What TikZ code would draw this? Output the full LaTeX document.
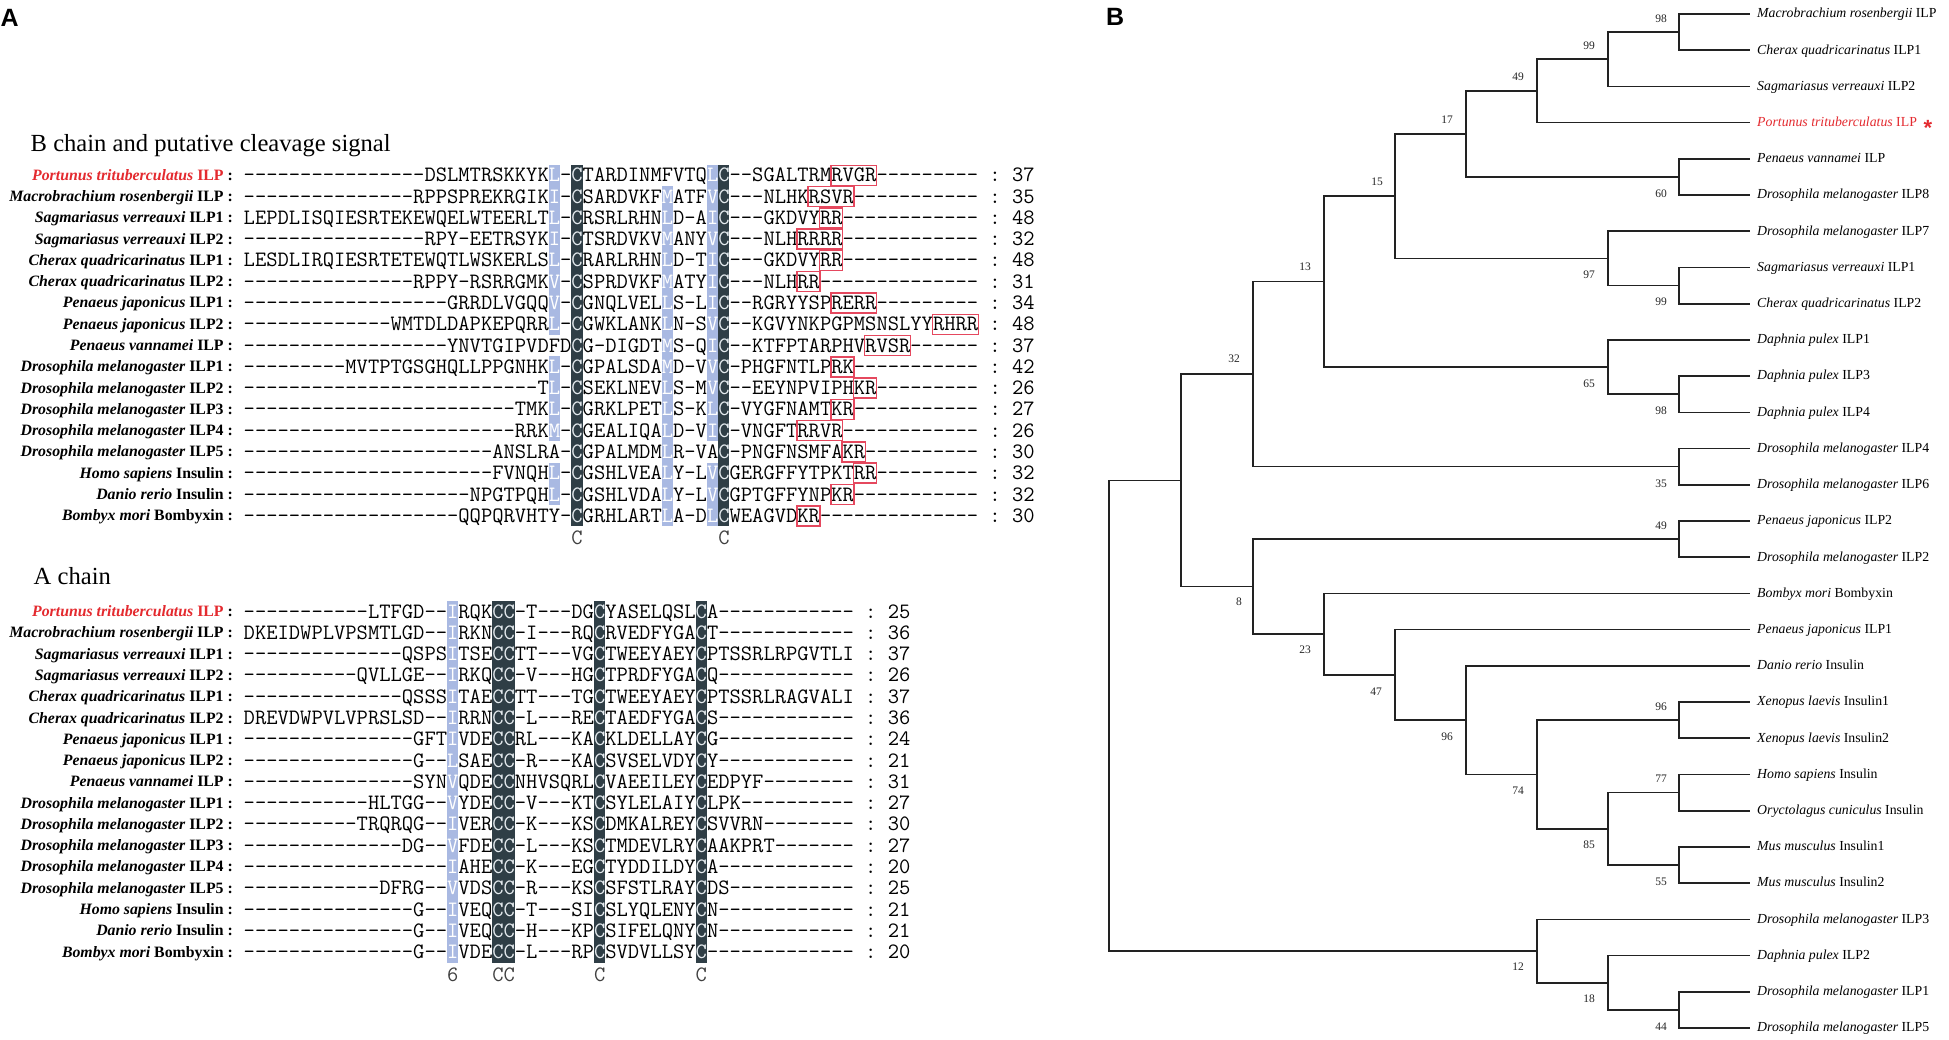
\documentclass[tikz,border=0pt]{standalone}
\usepackage{fontspec}
\setmainfont{Liberation Serif}
\newfontfamily\panelfont{Liberation Sans}
\definecolor{hlblue}{HTML}{A9B9E2}
\definecolor{hldark}{HTML}{2F3E46}
\definecolor{darkfg}{HTML}{E4EAEE}
\definecolor{boxred}{HTML}{E5485E}
\definecolor{labred}{HTML}{E42A2F}
\definecolor{treeline}{HTML}{222222}
\newcommand\sdash[1]{\ifnum#1>0 -\kern0pt\relax\expandafter\sdash\expandafter{\number\numexpr#1-1\relax}\fi}
\newcommand\hw[1]{\textcolor{white}{#1}}
\newcommand\hd[1]{\textcolor{darkfg}{#1}}
\newcommand\monosp{\hspace*{11.3pt}}
\newcommand\ty[1]{(14+(#1)*36.214)}
\newlength\cwtest
\newcommand\seqrow[6]{%
  \node[rowlab] (#1l#3) at (233,{#2+5}) {#4};
  \node[seqtxt] (#1s#3) at (243.5,{#2+6.5}) {#5\monosp:\monosp#6};
}
\newcommand\hcol[5]{\fill[#5] ({243.5+(#2-1)*11.3},{#1+(#3-1)*21.28-10.64}) rectangle ({243.5+#2*11.3},{#1+(#4-1)*21.28+10.64});}
\newcommand\rbox[3]{\draw[rbx] ({243.5+(#2-1)*11.3-0.3},{175.3+(#1-1)*21.28-10}) rectangle ({243.5+#3*11.3+0.3},{175.3+(#1-1)*21.28+10});}
\tikzset{
  rowlab/.style={anchor=base east, inner sep=0pt, font=\bfseries\fontsize{15.8}{18}\selectfont},
  seqtxt/.style={anchor=base west, inner sep=0pt, font=\ttfamily\fontsize{\monosize}{22}\selectfont},
  ttl/.style={anchor=base west, inner sep=0pt, font=\fontsize{24.6}{28}\selectfont},
  plab/.style={anchor=base west, inner sep=0pt, font=\panelfont\bfseries\fontsize{25}{28}\selectfont},
  leaflab/.style={anchor=base west, inner sep=0pt, font=\fontsize{13.8}{16}\selectfont},
  bsv/.style={inner sep=0pt, font=\fontsize{11.5}{12}\selectfont, text=black!85},
  trl/.style={draw=treeline, line width=1.6pt},
  rbx/.style={draw=boxred, line width=1.5pt},
  mk/.style={anchor=base west, inner sep=0pt, font=\ttfamily\fontsize{\monosize}{22}\selectfont, text=black!75}
}
\begin{document}
\settowidth\cwtest{\ttfamily\fontsize{20}{20}\selectfont M}%
\pgfmathsetmacro\monosize{20*11.3/\cwtest}%
\begin{tikzpicture}[x=1pt,y=-1pt]
\fill[white] (0,0) rectangle (1949,1039);
\useasboundingbox (0,0) rectangle (1949,1039);
% panel labels
\node[plab] (pA) at (0.5,26.7) {A};
\node[plab] (pB) at (1106,25) {B};
% titles
\node[ttl] (tB) at (30.5,151) {B chain and putative cleavage signal};
\node[ttl] (tA) at (33.5,584) {A chain};
% ---------- B chain highlights
\hcol{175.3}{28}{1}{8}{hlblue}
\hcol{175.3}{28}{10}{13}{hlblue}
\hcol{175.3}{28}{15}{16}{hlblue}
\hcol{175.3}{38}{2}{17}{hlblue}
\hcol{175.3}{42}{1}{13}{hlblue}
\hcol{175.3}{42}{15}{17}{hlblue}
\hcol{175.3}{30}{1}{17}{hldark}
\hcol{175.3}{43}{1}{17}{hldark}
% ---------- A chain highlights
\hcol{611.6}{19}{1}{17}{hlblue}
\hcol{611.6}{23}{1}{17}{hldark}
\hcol{611.6}{24}{1}{17}{hldark}
\hcol{611.6}{32}{1}{17}{hldark}
\hcol{611.6}{41}{1}{17}{hldark}
% ---------- B chain rows
\seqrow{b}{175.3+0*21.28}{1}{{\color{labred}\textit{Portunus trituberculatus} ILP} :}{\sdash{16}DSLMTRSKKYK\hw{L}-\hd{C}TARDINMFVTQ\hw{L}\hd{C}\sdash{2}SGALTRMRVGR\sdash{9}}{37}
\seqrow{b}{175.3+1*21.28}{2}{\textit{Macrobrachium rosenbergii} ILP :}{\sdash{15}RPPSPREKRGIK\hw{I}-\hd{C}SARDVKF\hw{M}ATF\hw{V}\hd{C}\sdash{3}NLHKRSVR\sdash{11}}{35}
\seqrow{b}{175.3+2*21.28}{3}{\textit{Sagmariasus verreauxi} ILP1 :}{LEPDLISQIESRTEKEWQELWTEERLT\hw{L}-\hd{C}RSRLRHN\hw{L}D-A\hw{I}\hd{C}\sdash{3}GKDVYRR\sdash{12}}{48}
\seqrow{b}{175.3+3*21.28}{4}{\textit{Sagmariasus verreauxi} ILP2 :}{\sdash{16}RPY-EETRSYK\hw{I}-\hd{C}TSRDVKV\hw{M}ANY\hw{V}\hd{C}\sdash{3}NLHRRRR\sdash{12}}{32}
\seqrow{b}{175.3+4*21.28}{5}{\textit{Cherax quadricarinatus} ILP1 :}{LESDLIRQIESRTETEWQTLWSKERLS\hw{L}-\hd{C}RARLRHN\hw{L}D-T\hw{I}\hd{C}\sdash{3}GKDVYRR\sdash{12}}{48}
\seqrow{b}{175.3+5*21.28}{6}{\textit{Cherax quadricarinatus} ILP2 :}{\sdash{15}RPPY-RSRRGMK\hw{V}-\hd{C}SPRDVKF\hw{M}ATY\hw{I}\hd{C}\sdash{3}NLHRR\sdash{14}}{31}
\seqrow{b}{175.3+6*21.28}{7}{\textit{Penaeus japonicus} ILP1 :}{\sdash{18}GRRDLVGQQ\hw{V}-\hd{C}GNQLVEL\hw{L}S-L\hw{I}\hd{C}\sdash{2}RGRYYSPRERR\sdash{9}}{34}
\seqrow{b}{175.3+7*21.28}{8}{\textit{Penaeus japonicus} ILP2 :}{\sdash{13}WMTDLDAPKEPQRR\hw{L}-\hd{C}GWKLANK\hw{L}N-S\hw{V}\hd{C}\sdash{2}KGVYNKPGPMSNSLYYRHRR}{48}
\seqrow{b}{175.3+8*21.28}{9}{\textit{Penaeus vannamei} ILP :}{\sdash{18}YNVTGIPVDFD\hd{C}G-DIGDT\hw{M}S-Q\hw{I}\hd{C}\sdash{2}KTFPTARPHVRVSR\sdash{6}}{37}
\seqrow{b}{175.3+9*21.28}{10}{\textit{Drosophila melanogaster} ILP1 :}{\sdash{9}MVTPTGSGHQLLPPGNHK\hw{L}-\hd{C}GPALSDA\hw{M}D-V\hw{V}\hd{C}-PHGFNTLPRK\sdash{11}}{42}
\seqrow{b}{175.3+10*21.28}{11}{\textit{Drosophila melanogaster} ILP2 :}{\sdash{26}T\hw{L}-\hd{C}SEKLNEV\hw{L}S-M\hw{V}\hd{C}\sdash{2}EEYNPVIPHKR\sdash{9}}{26}
\seqrow{b}{175.3+11*21.28}{12}{\textit{Drosophila melanogaster} ILP3 :}{\sdash{24}TMK\hw{L}-\hd{C}GRKLPET\hw{L}S-K\hw{L}\hd{C}-VYGFNAMTKR\sdash{11}}{27}
\seqrow{b}{175.3+12*21.28}{13}{\textit{Drosophila melanogaster} ILP4 :}{\sdash{24}RRK\hw{M}-\hd{C}GEALIQA\hw{L}D-V\hw{I}\hd{C}-VNGFTRRVR\sdash{12}}{26}
\seqrow{b}{175.3+13*21.28}{14}{\textit{Drosophila melanogaster} ILP5 :}{\sdash{22}ANSLRA-\hd{C}GPALMDM\hw{L}R-VA\hd{C}-PNGFNSMFAKR\sdash{10}}{30}
\seqrow{b}{175.3+14*21.28}{15}{\textit{Homo sapiens} Insulin :}{\sdash{22}FVNQH\hw{L}-\hd{C}GSHLVEA\hw{L}Y-L\hw{V}\hd{C}GERGFFYTPKTRR\sdash{9}}{32}
\seqrow{b}{175.3+15*21.28}{16}{\textit{Danio rerio} Insulin :}{\sdash{20}NPGTPQH\hw{L}-\hd{C}GSHLVDA\hw{L}Y-L\hw{V}\hd{C}GPTGFFYNPKR\sdash{11}}{32}
\seqrow{b}{175.3+16*21.28}{17}{\textit{Bombyx mori} Bombyxin :}{\sdash{19}QQPQRVHTY-\hd{C}GRHLART\hw{L}A-D\hw{L}\hd{C}WEAGVDKR\sdash{14}}{30}
% cleavage boxes
\rbox{1}{53}{56}\rbox{2}{51}{54}\rbox{3}{52}{53}\rbox{4}{50}{53}
\rbox{5}{52}{53}\rbox{6}{50}{51}\rbox{7}{53}{56}\rbox{8}{62}{65}
\rbox{9}{56}{59}\rbox{10}{53}{54}\rbox{11}{55}{56}\rbox{12}{53}{54}
\rbox{13}{50}{53}\rbox{14}{54}{55}\rbox{15}{55}{56}\rbox{16}{53}{54}
\rbox{17}{50}{51}
% B markers
\node[mk] (bm1) at ({243.5+29*11.3},544.5) {C};
\node[mk] (bm2) at ({243.5+42*11.3},544.5) {C};
% ---------- A chain rows
\seqrow{a}{611.6+0*21.28}{1}{{\color{labred}\textit{Portunus trituberculatus} ILP} :}{\sdash{11}LTFGD\sdash{2}\hw{I}RQK\hd{C}\hd{C}-T\sdash{3}DG\hd{C}YASELQSL\hd{C}A\sdash{12}}{25}
\seqrow{a}{611.6+1*21.28}{2}{\textit{Macrobrachium rosenbergii} ILP :}{DKEIDWPLVPSMTLGD\sdash{2}\hw{I}RKN\hd{C}\hd{C}-I\sdash{3}RQ\hd{C}RVEDFYGA\hd{C}T\sdash{12}}{36}
\seqrow{a}{611.6+2*21.28}{3}{\textit{Sagmariasus verreauxi} ILP1 :}{\sdash{14}QSPS\hw{I}TSE\hd{C}\hd{C}TT\sdash{3}VG\hd{C}TWEEYAEY\hd{C}PTSSRLRPGVTLI}{37}
\seqrow{a}{611.6+3*21.28}{4}{\textit{Sagmariasus verreauxi} ILP2 :}{\sdash{10}QVLLGE\sdash{2}\hw{I}RKQ\hd{C}\hd{C}-V\sdash{3}HG\hd{C}TPRDFYGA\hd{C}Q\sdash{12}}{26}
\seqrow{a}{611.6+4*21.28}{5}{\textit{Cherax quadricarinatus} ILP1 :}{\sdash{14}QSSS\hw{I}TAE\hd{C}\hd{C}TT\sdash{3}TG\hd{C}TWEEYAEY\hd{C}PTSSRLRAGVALI}{37}
\seqrow{a}{611.6+5*21.28}{6}{\textit{Cherax quadricarinatus} ILP2 :}{DREVDWPVLVPRSLSD\sdash{2}\hw{I}RRN\hd{C}\hd{C}-L\sdash{3}RE\hd{C}TAEDFYGA\hd{C}S\sdash{12}}{36}
\seqrow{a}{611.6+6*21.28}{7}{\textit{Penaeus japonicus} ILP1 :}{\sdash{15}GFT\hw{I}VDE\hd{C}\hd{C}RL\sdash{3}KA\hd{C}KLDELLAY\hd{C}G\sdash{12}}{24}
\seqrow{a}{611.6+7*21.28}{8}{\textit{Penaeus japonicus} ILP2 :}{\sdash{15}G\sdash{2}\hw{L}SAE\hd{C}\hd{C}-R\sdash{3}KA\hd{C}SVSELVDY\hd{C}Y\sdash{12}}{21}
\seqrow{a}{611.6+8*21.28}{9}{\textit{Penaeus vannamei} ILP :}{\sdash{15}SYN\hw{V}QDE\hd{C}\hd{C}NHVSQRL\hd{C}VAEEILEY\hd{C}EDPYF\sdash{8}}{31}
\seqrow{a}{611.6+9*21.28}{10}{\textit{Drosophila melanogaster} ILP1 :}{\sdash{11}HLTGG\sdash{2}\hw{V}YDE\hd{C}\hd{C}-V\sdash{3}KT\hd{C}SYLELAIY\hd{C}LPK\sdash{10}}{27}
\seqrow{a}{611.6+10*21.28}{11}{\textit{Drosophila melanogaster} ILP2 :}{\sdash{10}TRQRQG\sdash{2}\hw{I}VER\hd{C}\hd{C}-K\sdash{3}KS\hd{C}DMKALREY\hd{C}SVVRN\sdash{8}}{30}
\seqrow{a}{611.6+11*21.28}{12}{\textit{Drosophila melanogaster} ILP3 :}{\sdash{14}DG\sdash{2}\hw{V}FDE\hd{C}\hd{C}-L\sdash{3}KS\hd{C}TMDEVLRY\hd{C}AAKPRT\sdash{7}}{27}
\seqrow{a}{611.6+12*21.28}{13}{\textit{Drosophila melanogaster} ILP4 :}{\sdash{18}\hw{I}AHE\hd{C}\hd{C}-K\sdash{3}EG\hd{C}TYDDILDY\hd{C}A\sdash{12}}{20}
\seqrow{a}{611.6+13*21.28}{14}{\textit{Drosophila melanogaster} ILP5 :}{\sdash{12}DFRG\sdash{2}\hw{V}VDS\hd{C}\hd{C}-R\sdash{3}KS\hd{C}SFSTLRAY\hd{C}DS\sdash{11}}{25}
\seqrow{a}{611.6+14*21.28}{15}{\textit{Homo sapiens} Insulin :}{\sdash{15}G\sdash{2}\hw{I}VEQ\hd{C}\hd{C}-T\sdash{3}SI\hd{C}SLYQLENY\hd{C}N\sdash{12}}{21}
\seqrow{a}{611.6+15*21.28}{16}{\textit{Danio rerio} Insulin :}{\sdash{15}G\sdash{2}\hw{I}VEQ\hd{C}\hd{C}-H\sdash{3}KP\hd{C}SIFELQNY\hd{C}N\sdash{12}}{21}
\seqrow{a}{611.6+16*21.28}{17}{\textit{Bombyx mori} Bombyxin :}{\sdash{15}G\sdash{2}\hw{I}VDE\hd{C}\hd{C}-L\sdash{3}RP\hd{C}SVDVLLSY\hd{C}\sdash{13}}{20}
% A markers
\node[mk] (am1) at ({243.5+18*11.3},981) {6};
\node[mk] (am2) at ({243.5+22*11.3},981) {CC};
\node[mk] (am3) at ({243.5+31*11.3},981) {C};
\node[mk] (am4) at ({243.5+40*11.3},981) {C};
% ---------- tree
\foreach \i in {1,...,29} {\coordinate (p\i) at (1750,{14+(\i-1)*36.214});}
\coordinate (n98) at (1679,{\ty{0.5}});
\coordinate (n99) at (1608,{\ty{1.25}});
\coordinate (n49) at (1537,{\ty{2.125}});
\coordinate (n60) at (1679,{\ty{4.5}});
\coordinate (n17) at (1466,{\ty{3.3125}});
\coordinate (n99b) at (1679,{\ty{7.5}});
\coordinate (n97) at (1608,{\ty{6.75}});
\coordinate (n15) at (1395,{\ty{5.03125}});
\coordinate (n98b) at (1679,{\ty{10.5}});
\coordinate (n65) at (1608,{\ty{9.75}});
\coordinate (n13) at (1324,{\ty{7.390625}});
\coordinate (n35) at (1679,{\ty{12.5}});
\coordinate (n32) at (1253,{\ty{9.9453125}});
\coordinate (n49b) at (1679,{\ty{14.5}});
\coordinate (n96x) at (1679,{\ty{19.5}});
\coordinate (n77) at (1679,{\ty{21.5}});
\coordinate (n55) at (1679,{\ty{23.5}});
\coordinate (n85) at (1608,{\ty{22.5}});
\coordinate (n74) at (1537,{\ty{21}});
\coordinate (n96) at (1466,{\ty{19.5}});
\coordinate (n47) at (1395,{\ty{18.25}});
\coordinate (n23) at (1324,{\ty{17.125}});
\coordinate (n8) at (1253,{\ty{15.8125}});
\coordinate (nA) at (1181,{\ty{12.87890625}});
\coordinate (n44) at (1679,{\ty{27.5}});
\coordinate (n18) at (1608,{\ty{26.75}});
\coordinate (n12) at (1537,{\ty{25.875}});
\coordinate (nR) at (1109,{\ty{19.376953125}});
\foreach \a/\b in {n98/p1,n98/p2,n99/n98,n99/p3,n49/n99,n49/p4,n60/p5,n60/p6,n17/n49,n17/n60,
  n99b/p8,n99b/p9,n97/p7,n97/n99b,n15/n17,n15/n97,n98b/p11,n98b/p12,n65/p10,n65/n98b,
  n13/n15,n13/n65,n35/p13,n35/p14,n32/n13,n32/n35,n49b/p15,n49b/p16,n96x/p20,n96x/p21,
  n77/p22,n77/p23,n55/p24,n55/p25,n85/n77,n85/n55,n74/n96x,n74/n85,n96/p19,n96/n74,
  n47/p18,n47/n96,n23/p17,n23/n47,n8/n49b,n8/n23,nA/n32,nA/n8,n44/p28,n44/p29,
  n18/p27,n18/n44,n12/p26,n12/n18,nR/nA,nR/n12}
  {\draw[trl] (\a) |- (\b);}
% leaf labels
\node[leaflab] (t1) at (1757,{\ty{0}+3.8}) {\textit{Macrobrachium rosenbergii} ILP};
\node[leaflab] (t2) at (1757,{\ty{1}+3.8}) {\textit{Cherax quadricarinatus} ILP1};
\node[leaflab] (t3) at (1757,{\ty{2}+3.8}) {\textit{Sagmariasus verreauxi} ILP2};
\node[leaflab, text=labred] (t4) at (1757,{\ty{3}+3.8}) {\textit{Portunus trituberculatus} ILP};
\node[anchor=base west, inner sep=0pt, text=labred, font=\panelfont\bfseries\fontsize{22}{24}\selectfont] (ast) at (1923.5,135.5) {*};
\node[leaflab] (t5) at (1757,{\ty{4}+3.8}) {\textit{Penaeus vannamei} ILP};
\node[leaflab] (t6) at (1757,{\ty{5}+3.8}) {\textit{Drosophila melanogaster} ILP8};
\node[leaflab] (t7) at (1757,{\ty{6}+3.8}) {\textit{Drosophila melanogaster} ILP7};
\node[leaflab] (t8) at (1757,{\ty{7}+3.8}) {\textit{Sagmariasus verreauxi} ILP1};
\node[leaflab] (t9) at (1757,{\ty{8}+3.8}) {\textit{Cherax quadricarinatus} ILP2};
\node[leaflab] (t10) at (1757,{\ty{9}+3.8}) {\textit{Daphnia pulex} ILP1};
\node[leaflab] (t11) at (1757,{\ty{10}+3.8}) {\textit{Daphnia pulex} ILP3};
\node[leaflab] (t12) at (1757,{\ty{11}+3.8}) {\textit{Daphnia pulex} ILP4};
\node[leaflab] (t13) at (1757,{\ty{12}+3.8}) {\textit{Drosophila melanogaster} ILP4};
\node[leaflab] (t14) at (1757,{\ty{13}+3.8}) {\textit{Drosophila melanogaster} ILP6};
\node[leaflab] (t15) at (1757,{\ty{14}+3.8}) {\textit{Penaeus japonicus} ILP2};
\node[leaflab] (t16) at (1757,{\ty{15}+3.8}) {\textit{Drosophila melanogaster} ILP2};
\node[leaflab] (t17) at (1757,{\ty{16}+3.8}) {\textit{Bombyx mori} Bombyxin};
\node[leaflab] (t18) at (1757,{\ty{17}+3.8}) {\textit{Penaeus japonicus} ILP1};
\node[leaflab] (t19) at (1757,{\ty{18}+3.8}) {\textit{Danio rerio} Insulin};
\node[leaflab] (t20) at (1757,{\ty{19}+3.8}) {\textit{Xenopus laevis} Insulin1};
\node[leaflab] (t21) at (1757,{\ty{20}+3.8}) {\textit{Xenopus laevis} Insulin2};
\node[leaflab] (t22) at (1757,{\ty{21}+3.8}) {\textit{Homo sapiens} Insulin};
\node[leaflab] (t23) at (1757,{\ty{22}+3.8}) {\textit{Oryctolagus cuniculus} Insulin};
\node[leaflab] (t24) at (1757,{\ty{23}+3.8}) {\textit{Mus musculus} Insulin1};
\node[leaflab] (t25) at (1757,{\ty{24}+3.8}) {\textit{Mus musculus} Insulin2};
\node[leaflab] (t26) at (1757,{\ty{25}+3.8}) {\textit{Drosophila melanogaster} ILP3};
\node[leaflab] (t27) at (1757,{\ty{26}+3.8}) {\textit{Daphnia pulex} ILP2};
\node[leaflab] (t28) at (1757,{\ty{27}+3.8}) {\textit{Drosophila melanogaster} ILP1};
\node[leaflab] (t29) at (1757,{\ty{28}+3.8}) {\textit{Drosophila melanogaster} ILP5};
% bootstrap values
\foreach \n/\x/\y/\v in {1/1661/19/98,2/1589/45.7/99,3/1518/76.7/49,4/1447/119.3/17,5/1377/181.7/15,
  6/1305/266.7/13,7/1234/359/32,8/1661/193.3/60,9/1589/275/97,10/1661/301.7/99,11/1589/383.3/65,
  12/1661/410.7/98,13/1661/483.3/35,14/1661/525.7/49,15/1239/602/8,16/1305/650/23,17/1376/691.5/47,
  18/1447/736.7/96,19/1661/706.7/96,20/1518/791/74,21/1661/779/77,22/1589/845/85,23/1661/881.7/55,
  24/1518/966.7/12,25/1589/999/18,26/1661/1026.7/44}
  {\node[bsv] (bs\n) at (\x,\y) {\v};}
\end{tikzpicture}
\end{document}
